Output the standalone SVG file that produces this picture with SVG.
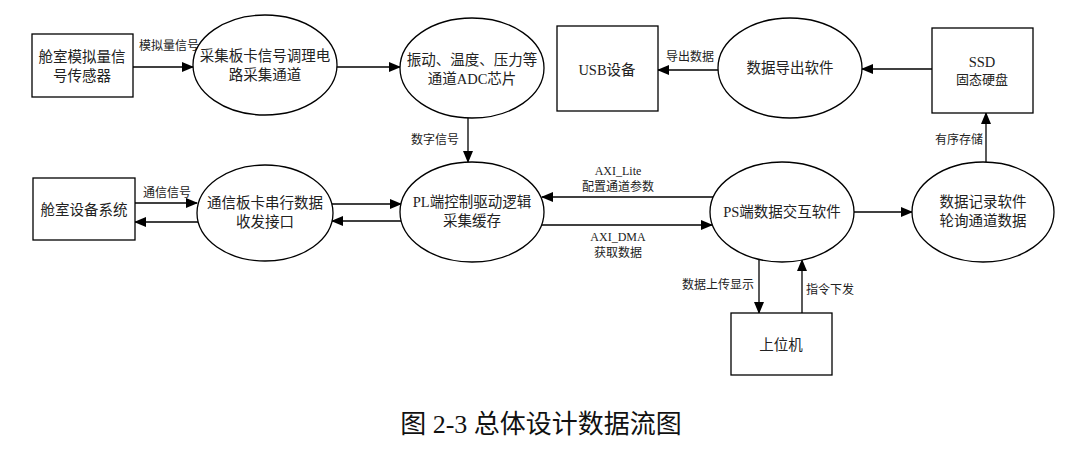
<svg xmlns="http://www.w3.org/2000/svg" width="1074" height="453" viewBox="0 0 1074 453">
<defs>
<marker id="ah" markerWidth="12" markerHeight="10" refX="11" refY="5" orient="auto" markerUnits="userSpaceOnUse">
<path d="M0,0 L12,5 L0,10 Z" fill="#000"/>
</marker>
<style>
.shape{fill:#fff;stroke:#000;stroke-width:1.3}
.t{font-family:"Liberation Serif","Noto Sans CJK SC",serif;font-size:14.5px;fill:#222;text-anchor:middle}
.l{font-family:"Liberation Serif","Noto Sans CJK SC",serif;font-size:12px;fill:#222;text-anchor:middle}
.c{stroke:#000;stroke-width:1.3;fill:none;marker-end:url(#ah)}
.cap{font-family:"Liberation Serif","Noto Sans CJK SC",serif;font-size:26px;fill:#111;text-anchor:middle}
</style>
</defs>
<rect width="1074" height="453" fill="#fff"/>

<g id="connectors">
<line class="c" x1="133" y1="67" x2="193" y2="67"/>
<line class="c" x1="337" y1="67" x2="400" y2="67"/>
<line class="c" x1="718" y1="70" x2="658" y2="70"/>
<line class="c" x1="932" y1="69" x2="862" y2="69"/>
<line class="c" x1="986" y1="162" x2="986" y2="113"/>
<line class="c" x1="468" y1="118" x2="468" y2="162"/>
<line class="c" x1="135" y1="203" x2="197" y2="203"/>
<line class="c" x1="198" y1="222" x2="135" y2="222"/>
<line class="c" x1="332" y1="204" x2="401" y2="204"/>
<line class="c" x1="401" y1="221" x2="332" y2="221"/>
<line class="c" x1="713" y1="197" x2="542" y2="197"/>
<line class="c" x1="542" y1="225" x2="712" y2="225"/>
<line class="c" x1="854" y1="212" x2="912" y2="212"/>
<line class="c" x1="759" y1="259" x2="759" y2="313"/>
<line class="c" x1="802" y1="313" x2="802" y2="260"/>
<text class="l" x="169" y="50">模拟量信号</text>
<text class="l" x="690" y="61">导出数据</text>
<text class="l" x="959" y="144">有序存储</text>
<text class="l" x="435" y="144">数字信号</text>
<text class="l" x="167" y="197">通信信号</text>
<text class="l" x="618" y="175">AXI_Lite</text>
<text class="l" x="618" y="191">配置通道参数</text>
<text class="l" x="618" y="241">AXI_DMA</text>
<text class="l" x="618" y="257">获取数据</text>
<text class="l" x="718" y="289">数据上传显示</text>
<text class="l" x="830" y="294">指令下发</text>
</g>

<g id="n1"><rect class="shape" x="32" y="34" width="101" height="63"/>
<text class="t" x="82" y="62">舱室模拟量信</text><text class="t" x="82" y="81">号传感器</text></g>

<g id="n2"><ellipse class="shape" cx="265" cy="65" rx="72" ry="50"/>
<text class="t" x="265" y="61">采集板卡信号调理电</text><text class="t" x="265" y="80">路采集通道</text></g>

<g id="n3"><ellipse class="shape" cx="472" cy="68" rx="72" ry="50"/>
<text class="t" x="472" y="65">振动、温度、压力等</text><text class="t" x="472" y="84">通道ADC芯片</text></g>

<g id="n4"><rect class="shape" x="557" y="26" width="101" height="85"/>
<text class="t" x="607" y="75">USB设备</text></g>

<g id="n5"><ellipse class="shape" cx="790" cy="68" rx="72" ry="50"/>
<text class="t" x="790" y="73">数据导出软件</text></g>

<g id="n6"><rect class="shape" x="932" y="28" width="101" height="85"/>
<text class="t" x="982" y="67">SSD</text><text class="l" x="982" y="84" style="font-size:13px">固态硬盘</text></g>

<g id="n7"><rect class="shape" x="33" y="178" width="102" height="62"/>
<text class="t" x="84" y="215">舱室设备系统</text></g>

<g id="n8"><ellipse class="shape" cx="265" cy="213" rx="68" ry="48"/>
<text class="t" x="265" y="208">通信板卡串行数据</text><text class="t" x="265" y="227">收发接口</text></g>

<g id="n9"><ellipse class="shape" cx="472" cy="212" rx="72" ry="50"/>
<text class="t" x="472" y="207">PL端控制驱动逻辑</text><text class="t" x="472" y="226">采集缓存</text></g>

<g id="n10"><ellipse class="shape" cx="782" cy="212" rx="72" ry="50"/>
<text class="t" x="782" y="217">PS端数据交互软件</text></g>

<g id="n11"><ellipse class="shape" cx="983" cy="212" rx="71" ry="50"/>
<text class="t" x="983" y="207">数据记录软件</text><text class="t" x="983" y="226">轮询通道数据</text></g>

<g id="n12"><rect class="shape" x="731" y="313" width="101" height="62"/>
<text class="t" x="781" y="350">上位机</text></g>

<text class="cap" x="541" y="433">图 2-3 总体设计数据流图</text>
</svg>
